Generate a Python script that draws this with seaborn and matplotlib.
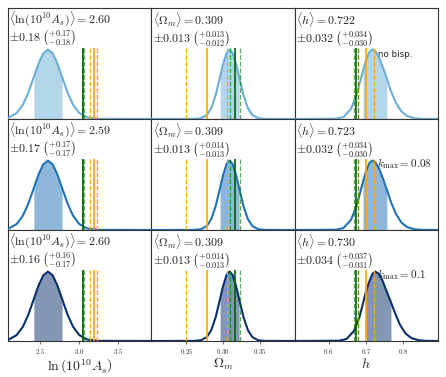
import numpy as np
import matplotlib
matplotlib.use("Agg")
import matplotlib.pyplot as plt
import seaborn as sns

# ---------------- data ----------------
# column 1: ln(10^10 A_s) posterior (relative density, peak = 1)
x_lnAs = [2.09, 2.10, 2.20, 2.28, 2.35, 2.42, 2.48, 2.54, 2.60, 2.66, 2.72, 2.78,
          2.85, 2.92, 3.00, 3.10, 3.25, 3.92]
d_lnAs = [0.015, 0.021, 0.085, 0.206, 0.381, 0.607, 0.800, 0.946, 1.000, 0.946, 0.800,
          0.607, 0.381, 0.206, 0.085, 0.021, 0.002, 0.0]
# column 2: Omega_m posterior
x_Om = [0.200, 0.260, 0.270, 0.278, 0.284, 0.290, 0.296, 0.300, 0.305, 0.309, 0.313,
        0.318, 0.322, 0.328, 0.334, 0.340, 0.348, 0.358, 0.400]
d_Om = [0.0, 0.001, 0.011, 0.058, 0.157, 0.344, 0.607, 0.787, 0.954, 1.000, 0.954,
        0.787, 0.607, 0.344, 0.157, 0.058, 0.011, 0.001, 0.0]
# column 3: h posterior (rows 1-2, and row 3)
x_h = [0.510, 0.620, 0.640, 0.660, 0.675, 0.692, 0.700, 0.709, 0.717, 0.726, 0.736,
       0.746, 0.756, 0.766, 0.780, 0.795, 0.810, 0.830, 0.850, 0.893]
d_h = [0.0, 0.004, 0.029, 0.145, 0.351, 0.690, 0.842, 0.963, 1.000, 0.971, 0.876,
       0.735, 0.580, 0.416, 0.235, 0.108, 0.042, 0.010, 0.002, 0.0]
x_h3 = [0.510, 0.628, 0.648, 0.668, 0.683, 0.699, 0.708, 0.717, 0.725, 0.734, 0.744,
        0.754, 0.767, 0.777, 0.791, 0.806, 0.822, 0.842, 0.862, 0.893]
d_h3 = [0.0, 0.004, 0.029, 0.145, 0.351, 0.690, 0.842, 0.963, 1.000, 0.971, 0.876,
        0.735, 0.560, 0.416, 0.235, 0.108, 0.042, 0.010, 0.002, 0.0]

# 1-sigma shaded intervals per row
fill_lnAs = [(2.42, 2.78), (2.42, 2.78), (2.42, 2.78)]
fill_Om = [(0.296, 0.322), (0.296, 0.322), (0.296, 0.322)]
fill_h = [(0.692, 0.756), (0.692, 0.756), (0.699, 0.767)]

# summary statistics shown in text
mean_lnAs = ["2.60", "2.59", "2.60"]
err_lnAs = ["0.18", "0.17", "0.16"]
up_lnAs = ["0.17", "0.17", "0.16"]
lo_lnAs = ["0.18", "0.17", "0.17"]
mean_Om = ["0.309", "0.309", "0.309"]
err_Om = ["0.013", "0.013", "0.013"]
up_Om = ["0.013", "0.014", "0.014"]
lo_Om = ["0.012", "0.013", "0.013"]
mean_h = ["0.722", "0.723", "0.730"]
err_h = ["0.032", "0.032", "0.034"]
up_h = ["0.034", "0.034", "0.037"]
lo_h = ["0.030", "0.030", "0.031"]

# reference values (vertical lines): green (solid, -, +), orange (solid, -, +)
green_lnAs = [3.044, 3.030, 3.058]
orange_lnAs = [3.19, 3.14, 3.23]
green_Om = [0.316, 0.309, 0.323]
orange_Om = [0.278, 0.250, 0.306]
green_h = [0.674, 0.669, 0.679]
orange_h = [0.700, 0.678, 0.722]

row_labels = ["no bisp.", r"$k_{\rm max} = 0.08$", r"$k_{\rm max} = 0.1$"]
xlabels = [r"$\ln\left(10^{10}A_s\right)$", r"$\Omega_m$", r"$h$"]
param_tex = [r"\langle\ln(10^{10}A_s)\rangle", r"\langle\Omega_m\rangle", r"\langle h\rangle"]
xlims = [(2.09, 3.92), (0.202, 0.398), (0.509, 0.893)]
xticks = [[2.5, 3.0, 3.5], [0.25, 0.30, 0.35], [0.6, 0.7, 0.8]]
xticklabels = [["2.5", "3.0", "3.5"], ["0.25", "0.30", "0.35"], ["0.6", "0.7", "0.8"]]

row_colors = ["#6baed6", "#2171b5", "#08306b"]

# ---------------- plotting ----------------
sns.set_theme(style="white")
plt.rcParams["mathtext.fontset"] = "cm"
plt.rcParams["font.family"] = ["DejaVu Sans"]

fig, axes = plt.subplots(3, 3, figsize=(4.46, 3.77), dpi=100)
fig.subplots_adjust(left=0.018, right=0.982, top=0.979, bottom=0.0955,
                    hspace=0, wspace=0)

curves = [
    [(x_lnAs, d_lnAs), (x_Om, d_Om), (x_h, d_h)],
    [(x_lnAs, d_lnAs), (x_Om, d_Om), (x_h, d_h)],
    [(x_lnAs, d_lnAs), (x_Om, d_Om), (x_h3, d_h3)],
]
fills = [fill_lnAs, fill_Om, fill_h]
means = [mean_lnAs, mean_Om, mean_h]
errs = [err_lnAs, err_Om, err_h]
ups = [up_lnAs, up_Om, up_h]
los = [lo_lnAs, lo_Om, lo_h]
greens = [green_lnAs, green_Om, green_h]
oranges = [orange_lnAs, orange_Om, orange_h]

for r in range(3):
    for c in range(3):
        ax = axes[r, c]
        xs, ds = curves[r][c]
        xs = np.array(xs)
        ds = np.array(ds)
        col = row_colors[r]
        lo, hi = fills[c][r]
        m = (xs >= lo - 1e-9) & (xs <= hi + 1e-9)
        ax.fill_between(xs[m], 0, ds[m], color=col, alpha=0.5, lw=0, zorder=1)
        sns.lineplot(x=xs, y=ds, ax=ax, color=col, linewidth=1.5,
                     estimator=None, sort=False, zorder=4)
        g = greens[c]
        o = oranges[c]
        ax.vlines(o[1:], 0, 1.02, colors="orange", linestyles="--", linewidth=0.9, zorder=5)
        ax.vlines([o[0]], 0, 1.02, colors="orange", linewidth=1.2, zorder=5)
        ax.vlines(g[1:], 0, 1.02, colors="green", linestyles="--", linewidth=0.9,
                  alpha=0.65, zorder=5)
        ax.vlines([g[0]], 0, 1.02, colors="darkgreen", linewidth=1.2, zorder=5)

        ax.set_xlim(*xlims[c])
        ax.set_ylim(0, 1.6)
        ax.set_yticks([])
        ax.set_ylabel("")
        txt = (rf"${param_tex[c]} = {means[c][r]}$" + "\n" +
               rf"$\pm{errs[c][r]}\ \left(^{{+{ups[c][r]}}}_{{-{los[c][r]}}}\right)$")
        ax.text(0.01, 0.985, txt, transform=ax.transAxes, ha="left", va="top",
                fontsize=8.6, color="#222222", linespacing=1.0, zorder=6)
        if c == 2:
            if r == 0:
                ax.text(0.585, 0.58, row_labels[r], transform=ax.transAxes,
                        ha="left", va="center", fontsize=6.3, color="#222222", zorder=2)
            else:
                ax.text(0.575, 0.60, row_labels[r], transform=ax.transAxes,
                        ha="left", va="center", fontsize=8, color="#222222", zorder=2)
        for s in ax.spines.values():
            s.set_color("#333333")
            s.set_linewidth(0.8)
        if r == 2:
            ax.set_xticks(xticks[c])
            ax.set_xticklabels([f"${t}$" for t in xticklabels[c]], fontsize=5)
            ax.tick_params(axis="x", direction="out", length=2, width=0.5, pad=2,
                           bottom=True, colors="#333333")
            ax.set_xlabel(xlabels[c], fontsize=10, labelpad=1)
        else:
            ax.set_xticks([])
            ax.set_xlabel("")

fig.savefig("out.png", dpi=100)
